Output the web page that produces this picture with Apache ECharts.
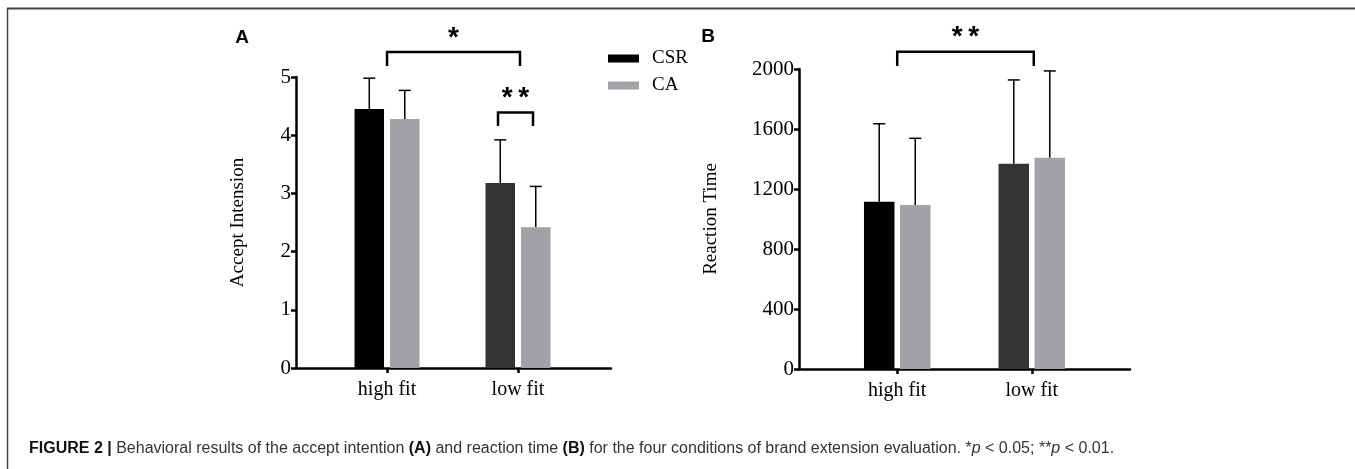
<!DOCTYPE html>
<html>
<head>
<meta charset="utf-8">
<script src="https://cdn.jsdelivr.net/npm/echarts@6.0.0/dist/echarts.min.js"></script>
<style>
  html, body { margin: 0; padding: 0; background: #fff; }
  #chart { width: 1355px; height: 469px; }
</style>
</head>
<body>
<div id="chart"></div>
<script>
// categories and group means / SD
const categories = ['high fit', 'low fit']

const acceptCSR = [4.45, 3.18]
const acceptCSRsd = [0.53, 0.74]
const acceptCA = [4.28, 2.42]
const acceptCAsd = [0.49, 0.70]

const rtCSR = [1115, 1369]
const rtCSRsd = [520, 558]
const rtCA = [1093, 1409]
const rtCAsd = [445, 578]

const acceptTicks = [0, 1, 2, 3, 4, 5]
const rtTicks = [0, 400, 800, 1200, 1600, 2000]

// significance brackets: [fromCategory, toCategory, bracketY, legY]
const acceptSig = [[0, 1, 5.43, 5.19], [1, 1, 4.39, 4.16]]
const acceptSigText = ['*', '**']
const rtSig = [[0, 1, 2115, 2020]]
const rtSigText = ['**']

const csrColors = ['#000000', '#333333']
const caColor = '#a2a2a6'
const serif = '"Liberation Serif", "Times New Roman", serif'
const sans = '"Liberation Sans", Arial, sans-serif'

const chart = echarts.init(document.getElementById('chart'))

// bar with upward error bar, offset in pixels from the category tick
function barRenderer(offset, width, colorFn) {
  return function (params, api) {
    const x = api.value(0)
    const v = api.value(1)
    const sd = api.value(2)
    const base = api.coord([x, 0])
    const top = api.coord([x, v])
    const errTop = api.coord([x, v + sd])
    const cx = base[0] + offset
    const line = { stroke: '#000', lineWidth: 1.5 }
    return {
      type: 'group',
      children: [
        { type: 'line', shape: { x1: cx, y1: top[1], x2: cx, y2: errTop[1] }, style: line },
        { type: 'line', shape: { x1: cx - 6, y1: errTop[1], x2: cx + 6, y2: errTop[1] }, style: line },
        {
          type: 'rect',
          shape: { x: cx - width / 2, y: top[1], width: width, height: base[1] - top[1] },
          style: { fill: colorFn(params.dataIndex) },
        },
      ],
    }
  }
}

// bracket with stars; pixel offsets for the ends
function sigRenderer(texts, offsets) {
  return function (params, api) {
    const i = params.dataIndex
    const a = api.coord([api.value(0), api.value(2)])
    const b = api.coord([api.value(1), api.value(2)])
    const leg = api.coord([api.value(0), api.value(3)])
    const x1 = a[0] + offsets[i][0]
    const x2 = b[0] + offsets[i][1]
    return {
      type: 'group',
      children: [
        {
          type: 'polyline',
          shape: { points: [[x1, leg[1]], [x1, a[1]], [x2, a[1]], [x2, leg[1]]] },
          style: { stroke: '#000', lineWidth: 2.5, fill: null },
        },
        {
          type: 'text',
          style: {
            text: texts[i].split('').join('\u2009'), x: (x1 + x2) / 2, y: a[1] - 14,
            align: 'center', verticalAlign: 'middle',
            font: 'bold 28px ' + sans, fill: '#000',
          },
        },
      ],
    }
  }
}

const axisLine = { show: true, onZero: false, lineStyle: { color: '#000', width: 2.5 } }
const axisTick = { show: true, length: 5, lineStyle: { color: '#000', width: 2.5 } }

function xAxis(gridIndex, min, max) {
  return {
    type: 'value', gridIndex, min, max,
    axisLine, splitLine: { show: false },
    axisTick: { ...axisTick, customValues: [0, 1] },
    axisLabel: {
      customValues: [0, 1], margin: 12,
      formatter: v => categories[v],
      color: '#000', fontFamily: serif, fontSize: 20,
    },
  }
}

function yAxis(gridIndex, ticks, name, nameGap) {
  return {
    type: 'value', gridIndex,
    min: ticks[0], max: ticks[ticks.length - 1], interval: ticks[1] - ticks[0],
    name, nameLocation: 'middle', nameGap,
    nameTextStyle: { color: '#000', fontFamily: serif, fontSize: 19 },
    axisLine, axisTick, splitLine: { show: false },
    axisLabel: { margin: 5, color: '#000', fontFamily: serif, fontSize: 21, formatter: v => String(v) },
  }
}

const option = {
  backgroundColor: '#fff',
  animation: false,
  grid: [
    { left: 296, top: 77, width: 315, height: 291 },
    { left: 799, top: 69, width: 331, height: 300 },
  ],
  xAxis: [xAxis(0, -0.695, 1.71), xAxis(1, -0.73, 1.73)],
  yAxis: [yAxis(0, acceptTicks, 'Accept Intension', 48), yAxis(1, rtTicks, 'Reaction Time', 78)],
  legend: {
    data: ['CSR', 'CA'],
    orient: 'vertical',
    left: 603, top: 44,
    itemWidth: 31, itemHeight: 8, itemGap: 8,
    icon: 'rect',
    textStyle: { color: '#000', fontFamily: serif, fontSize: 19, padding: [0, 0, 0, 8] },
  },
  series: [
    {
      name: 'CSR', type: 'custom', xAxisIndex: 0, yAxisIndex: 0,
      itemStyle: { color: '#000' },
      encode: { x: 0, y: 1 },
      data: acceptCSR.map((v, i) => [i, v, acceptCSRsd[i]]),
      renderItem: barRenderer(-17.75, 29.5, i => csrColors[i]),
    },
    {
      name: 'CA', type: 'custom', xAxisIndex: 0, yAxisIndex: 0,
      itemStyle: { color: caColor },
      encode: { x: 0, y: 1 },
      data: acceptCA.map((v, i) => [i, v, acceptCAsd[i]]),
      renderItem: barRenderer(17.75, 29.5, () => caColor),
    },
    {
      name: 'CSR', type: 'custom', xAxisIndex: 1, yAxisIndex: 1,
      itemStyle: { color: '#000' },
      encode: { x: 0, y: 1 },
      data: rtCSR.map((v, i) => [i, v, rtCSRsd[i]]),
      renderItem: barRenderer(-18, 30.5, i => csrColors[i]),
    },
    {
      name: 'CA', type: 'custom', xAxisIndex: 1, yAxisIndex: 1,
      itemStyle: { color: caColor },
      encode: { x: 0, y: 1 },
      data: rtCA.map((v, i) => [i, v, rtCAsd[i]]),
      renderItem: barRenderer(18, 30.5, () => caColor),
    },
    {
      name: 'sigA', type: 'custom', xAxisIndex: 0, yAxisIndex: 0,
      encode: { x: [0, 1], y: 2 },
      data: acceptSig,
      renderItem: sigRenderer(acceptSigText, [[0, 2], [-20, 15]]),
    },
    {
      name: 'sigB', type: 'custom', xAxisIndex: 1, yAxisIndex: 1,
      encode: { x: [0, 1], y: 2 },
      data: rtSig,
      renderItem: sigRenderer(rtSigText, [[0, 2]]),
    },
  ],
  graphic: [
    // figure frame (top and left rules)
    { type: 'line', shape: { x1: 7, y1: 8.5, x2: 1355, y2: 8.5 }, style: { stroke: '#444', lineWidth: 2 } },
    { type: 'line', shape: { x1: 7.5, y1: 8, x2: 7.5, y2: 469 }, style: { stroke: '#444', lineWidth: 1.5 } },
    { type: 'text', x: 242, y: 38, style: { text: 'A', font: 'bold 19px ' + sans, fill: '#000', align: 'center', verticalAlign: 'middle' } },
    { type: 'text', x: 708, y: 37, style: { text: 'B', font: 'bold 19px ' + sans, fill: '#000', align: 'center', verticalAlign: 'middle' } },
    {
      type: 'text', x: 29, y: 449,
      style: {
        text: '{b|FIGURE 2 |} Behavioral results of the accept intention {b|(A)} and reaction time {b|(B)} for the four conditions of brand extension evaluation. *{i|p} < 0.05; **{i|p} < 0.01.',
        font: '16px ' + sans, fill: '#333', verticalAlign: 'middle',
        rich: {
          b: { fontFamily: sans, fontSize: 16, fontWeight: 'bold', fill: '#111' },
          i: { fontFamily: sans, fontSize: 16, fontStyle: 'italic', fill: '#333' },
        },
      },
    },
  ],
}

chart.setOption(option)
</script>
</body>
</html>
